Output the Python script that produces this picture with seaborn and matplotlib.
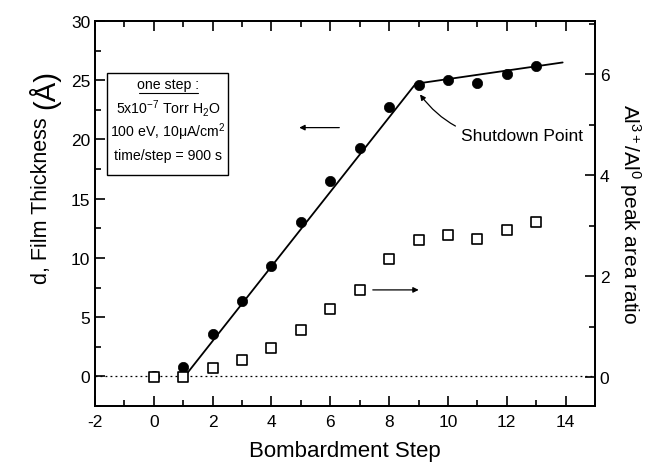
import matplotlib
matplotlib.use("Agg")
import matplotlib.pyplot as plt
import seaborn as sns
import pandas as pd
from matplotlib.ticker import MultipleLocator
from matplotlib.patches import Rectangle
from matplotlib.lines import Line2D

# ---- data ----
steps = [0, 1, 2, 3, 4, 5, 6, 7, 8, 9, 10, 11, 12, 13]
thickness = [0.0, 0.8, 3.6, 6.4, 9.3, 13.0, 16.5, 19.3, 22.7, 24.6, 25.0, 24.8, 25.5, 26.2]
ratio = [0.0, 0.01, 0.18, 0.35, 0.57, 0.93, 1.34, 1.73, 2.34, 2.72, 2.82, 2.74, 2.91, 3.07]
fit_steps = [1.05, 8.9, 13.9]
fit_thickness = [0.0, 24.7, 26.5]
x_ticks = [-2, 0, 2, 4, 6, 8, 10, 12, 14]
left_ticks = [0, 5, 10, 15, 20, 25, 30]
right_ticks = [0, 2, 4, 6]

df = pd.DataFrame({"step": steps, "d": thickness, "ratio": ratio})
fit = pd.DataFrame({"step": fit_steps, "d": fit_thickness})

sns.set_style("ticks")
plt.rcParams["font.family"] = ["Liberation Sans", "DejaVu Sans"]
plt.rcParams["mathtext.fontset"] = "custom"
plt.rcParams["mathtext.rm"] = "Liberation Sans"
plt.rcParams["mathtext.it"] = "Liberation Sans:italic"
plt.rcParams["axes.unicode_minus"] = False
plt.rcParams["text.color"] = "black"
plt.rcParams["axes.labelcolor"] = "black"
plt.rcParams["xtick.color"] = "black"
plt.rcParams["ytick.color"] = "black"

fig = plt.figure(figsize=(6.47, 4.64), dpi=100)
ax = fig.add_axes([95/647, 1-407/464, 500/647, 385/464])
ax2 = ax.twinx()

# fit line + zero dotted line
sns.lineplot(data=fit, x="step", y="d", ax=ax, color="black", lw=1.3, sort=False, zorder=2)
ax.axhline(0, color="black", lw=0.9, ls=(0, (1.5, 2.5)), zorder=1)
# film thickness
sns.scatterplot(data=df, x="step", y="d", ax=ax, marker="o", s=55, color="black",
                edgecolor="black", linewidth=0.5, zorder=3)
# ratio
sns.scatterplot(data=df, x="step", y="ratio", ax=ax2, marker="s", s=45, facecolor="white",
                edgecolor="black", linewidth=1.2, zorder=4)

ax.set_xlim(-2, 15)
ax.set_ylim(-2.5, 30)
ax2.set_ylim(-0.57, 7.05)
ax.set_xticks(x_ticks)
ax.set_yticks(left_ticks)
ax2.set_yticks(right_ticks)
ax.xaxis.set_minor_locator(MultipleLocator(1))
ax.yaxis.set_minor_locator(MultipleLocator(2.5))
ax2.yaxis.set_minor_locator(MultipleLocator(1))

for a in (ax, ax2):
    for s in a.spines.values():
        s.set_linewidth(1.3)
        s.set_color("black")
        s.set_visible(True)
ax.tick_params(which="both", direction="in", top=True, right=False, labelsize=12.5, width=1.2)
ax.tick_params(which="major", length=7)
ax.tick_params(which="minor", length=4)
ax2.tick_params(which="both", direction="in", labelsize=12.5, width=1.2, left=False)
ax2.tick_params(which="major", length=7)
ax2.tick_params(which="minor", length=4)
ax.tick_params(axis="x", pad=6)

ax.set_xlabel("Bombardment Step", fontsize=16, labelpad=8)
ax.set_ylabel("")
ax2.set_ylabel("Al$^{3+}$/Al$^{0}$ peak area ratio", fontsize=15, rotation=-90, labelpad=24)

# left y label: text plus larger unit
t1 = fig.text(42/647, 1-284/464, "d, Film Thickness", rotation=90, fontsize=15.5,
              ha="center", va="bottom")
fig.canvas.draw()
bb = t1.get_window_extent()
fig.text(44/647, (bb.y1 + 8)/464, "(Å)", rotation=90, fontsize=21,
         ha="center", va="bottom")

# text box
ax.add_patch(Rectangle((0.024, 0.60), 0.242, 0.265, transform=ax.transAxes,
                       facecolor="white", edgecolor="black", lw=1.0, zorder=5))
cx = 0.146
fs = 10.2
ax.text(cx, 0.836, "one step :", transform=ax.transAxes, ha="center", va="center", fontsize=fs, zorder=6)
ax.add_line(Line2D([0.087, 0.205], [0.812, 0.812], transform=ax.transAxes, color="black", lw=0.8, zorder=6))
ax.text(cx, 0.775, "5x10$^{-7}$ Torr H$_2$O", transform=ax.transAxes, ha="center", va="center", fontsize=fs, zorder=6)
ax.text(cx, 0.713, "100 eV, 10μA/cm$^2$", transform=ax.transAxes, ha="center", va="center", fontsize=fs, zorder=6)
ax.text(cx, 0.651, "time/step = 900 s", transform=ax.transAxes, ha="center", va="center", fontsize=fs, zorder=6)

# arrows
ax.annotate("", xy=(4.85, 21.0), xytext=(6.4, 21.0),
            arrowprops=dict(arrowstyle="-|>", color="black", lw=0.9, mutation_scale=8))
ax.annotate("", xy=(9.1, 7.3), xytext=(7.35, 7.3),
            arrowprops=dict(arrowstyle="-|>", color="black", lw=0.9, mutation_scale=8))
ax.annotate("Shutdown Point", xy=(9.05, 23.8), xytext=(10.45, 20.3), fontsize=12.5,
            ha="left", va="center",
            arrowprops=dict(arrowstyle="-|>", color="black", lw=0.9, mutation_scale=8,
                            connectionstyle="arc3,rad=-0.3", shrinkA=2, shrinkB=0))

fig.savefig("out.png", dpi=100)
